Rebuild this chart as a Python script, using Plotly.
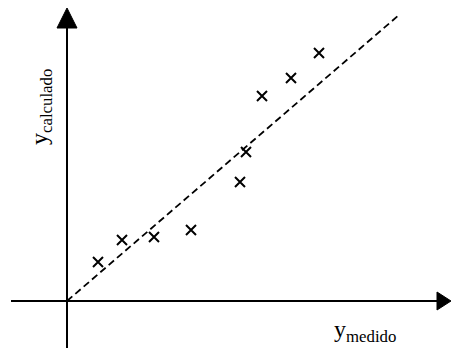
import plotly.graph_objects as go

# Measured vs calculated values (arbitrary units, origin at the axes crossing)
y_medido = [31, 55, 87, 124, 173, 179, 195, 224, 252]
y_calculado = [39, 61, 64, 71, 119, 149, 205, 223, 248]

# Reference line through the origin
ref_x = [0, 332]
ref_y = [0, 286]

fig = go.Figure()

fig.add_trace(go.Scatter(
    x=ref_x, y=ref_y, mode="lines",
    line=dict(color="black", width=1.8, dash="7px,4px"),
    hoverinfo="skip", showlegend=False,
))

fig.add_trace(go.Scatter(
    x=y_medido, y=y_calculado, mode="markers",
    marker=dict(symbol="x-thin", size=10, line=dict(color="black", width=2)),
    showlegend=False,
))

# Axis lines
fig.add_shape(type="line", x0=-56, y0=0, x1=372, y1=0,
              line=dict(color="black", width=2))
fig.add_shape(type="line", x0=0, y0=-47, x1=0, y1=274,
              line=dict(color="black", width=2))

# Arrowheads
fig.add_shape(type="path", path="M 370 -9 L 384 0 L 370 9 Z",
              fillcolor="black", line=dict(color="black", width=1))
fig.add_shape(type="path", path="M -10 273 L 0 293 L 10 273 Z",
              fillcolor="black", line=dict(color="black", width=1))

font = dict(family="Liberation Serif, Times New Roman, serif", size=24, color="black")

fig.add_annotation(x=298, y=-30, text="y<sub>medido</sub>", showarrow=False,
                   font=font, xanchor="center", yanchor="middle")
fig.add_annotation(x=-26, y=194, text="y<sub>calculado</sub>", showarrow=False,
                   font=font, textangle=-90, xanchor="center", yanchor="middle")

fig.update_layout(
    width=452, height=350,
    margin=dict(l=0, r=0, t=0, b=0),
    paper_bgcolor="white", plot_bgcolor="white",
    xaxis=dict(range=[-67, 385], visible=False, fixedrange=True),
    yaxis=dict(range=[-49, 301], visible=False, fixedrange=True),
)

fig.write_html("out.html")
